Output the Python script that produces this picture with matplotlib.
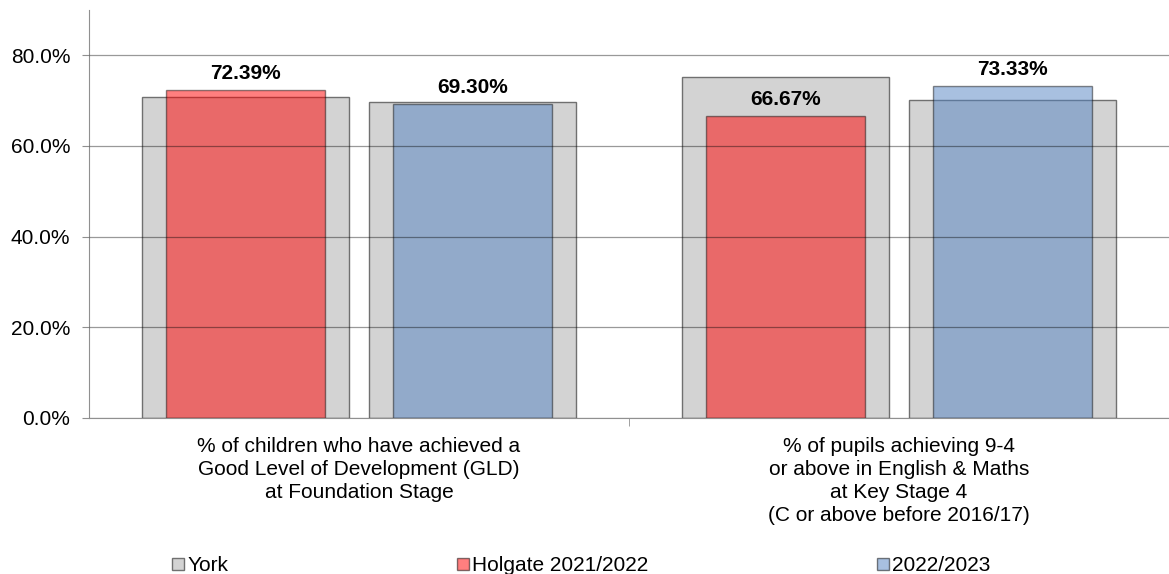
import matplotlib.pyplot as plt
from matplotlib.patches import Patch
from matplotlib.ticker import FuncFormatter

plt.rcParams['font.family'] = ['Liberation Sans', 'DejaVu Sans']

categories = ['% of children who have achieved a\nGood Level of Development (GLD)\nat Foundation Stage',
              '% of pupils achieving 9-4\nor above in English & Maths\nat Key Stage 4\n(C or above before 2016/17)']
york_2122 = [70.8, 75.2]
york_2223 = [69.6, 70.1]
holgate_2122 = [72.39, 66.67]
holgate_2223 = [69.30, 73.33]
legend_labels = ['York', 'Holgate 2021/2022', '2022/2023']

red = (1.0, 0.0, 0.0, 0.5)
blue = (0.32, 0.51, 0.76, 0.5)
grey = '#d3d3d3'

fig = plt.figure(figsize=(11.69, 5.74), dpi=100)
ax = fig.add_axes([0.0761, 0.2718, 0.9239, 0.7108])

x = [0, 1]
off = 0.21
xl = [i - off for i in x]
xr = [i + off for i in x]

ax.bar(xl, york_2122, width=0.384, color=grey, edgecolor='#707070', linewidth=1, zorder=1)
ax.bar(xr, york_2223, width=0.384, color=grey, edgecolor='#707070', linewidth=1, zorder=1)
b1 = ax.bar(xl, holgate_2122, width=0.295, color=red, edgecolor=(0, 0, 0, 0.45), linewidth=1, zorder=2)
b2 = ax.bar(xr, holgate_2223, width=0.295, color=blue, edgecolor=(0, 0, 0, 0.45), linewidth=1, zorder=2)

for bars, vals in [(b1, holgate_2122), (b2, holgate_2223)]:
    for rect, v in zip(bars, vals):
        ax.annotate('%.2f%%' % v, (rect.get_x() + rect.get_width() / 2, v),
                    xytext=(0, 5), textcoords='offset points', ha='center', va='bottom',
                    fontsize=15, fontweight='bold', zorder=5)

ax.set_ylim(0, 90)
ax.set_xlim(-0.5, 1.5)
ax.set_yticks([0, 20, 40, 60, 80])
ax.yaxis.set_major_formatter(FuncFormatter(lambda v, p: '%.1f%%' % v))
ax.yaxis.grid(True, color='black', alpha=0.4, linewidth=0.9, zorder=3)
ax.set_axisbelow(False)
ax.tick_params(axis='y', labelsize=15, length=5, color='#909090', pad=8.5)

ax.set_xticks(x)
ax.set_xticklabels(categories, fontsize=15, linespacing=1.25)
ax.tick_params(axis='x', length=0, pad=14)
ax.set_xticks([0.5], minor=True)
ax.tick_params(axis='x', which='minor', length=6, color='#909090')

for s in ['top', 'right']:
    ax.spines[s].set_visible(False)
ax.spines['left'].set_color('#909090')
ax.spines['bottom'].set_color('#909090')

handles = [Patch(facecolor=grey, edgecolor='#707070'),
           Patch(facecolor=red, edgecolor=(0, 0, 0, 0.5)),
           Patch(facecolor=blue, edgecolor=(0, 0, 0, 0.5))]
fig.legend(handles, legend_labels, loc='lower left', bbox_to_anchor=(0.1315, -0.035), ncol=3,
           frameon=False, fontsize=15, handlelength=0.55, handleheight=0.55,
           handletextpad=0.15, columnspacing=11.0)

plt.savefig('out.png', dpi=100)
